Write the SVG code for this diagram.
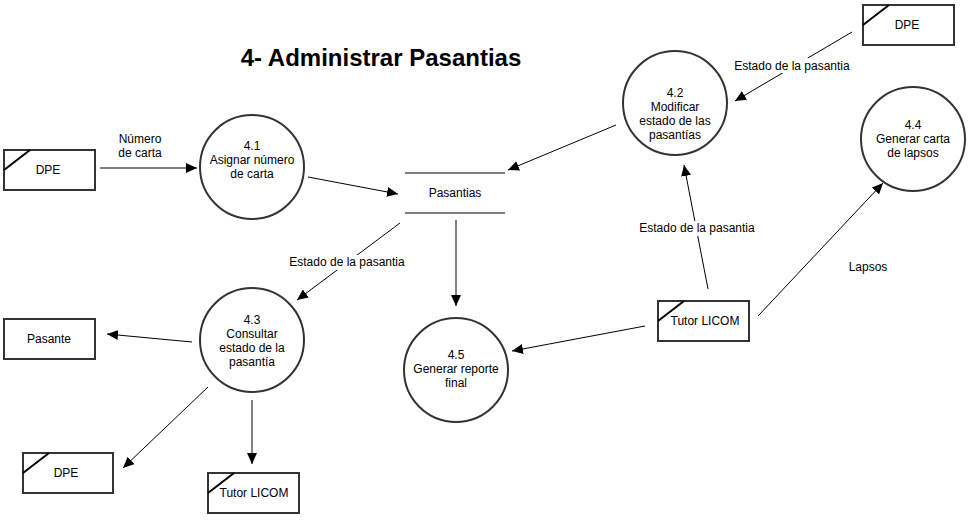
<svg xmlns="http://www.w3.org/2000/svg" width="973" height="523" viewBox="0 0 973 523">
<style>
text{font-family:"Liberation Sans",Arial,sans-serif;font-size:12px;fill:#000;text-anchor:middle}
.title{font-size:24px;font-weight:bold}
.proc{fill:#fff;stroke:#333;stroke-width:2}
.ent{fill:#fff;stroke:#333;stroke-width:2}
.diag{stroke:#000;stroke-width:2}
.thin{stroke:#000;stroke-width:1;fill:none}
.thick{stroke:#808080;stroke-width:2;fill:none}
.store{stroke:#808080;stroke-width:2}
</style>
<defs>
<marker id="ah" markerUnits="userSpaceOnUse" markerWidth="12" markerHeight="10" refX="11" refY="5" orient="auto">
<path d="M0,0 L11,5 L0,10 Z" fill="#000"/>
</marker>
</defs>
<rect width="973" height="523" fill="#fff"/>
<text class="title" x="381" y="66">4- Administrar Pasantias</text>

<g id="connectors">
<line class="thick" x1="100" y1="168" x2="197" y2="168" marker-end="url(#ah)"/>
<text x="140" y="143">Número</text>
<text x="140" y="157">de carta</text>
<line class="thin" x1="308" y1="177" x2="398" y2="194" marker-end="url(#ah)"/>
<line class="thin" x1="616" y1="125" x2="508" y2="170" marker-end="url(#ah)"/>
<line class="thin" x1="852" y1="32" x2="735" y2="101" marker-end="url(#ah)"/>
<rect x="727" y="58" width="130" height="15" fill="#fff"/>
<text x="792" y="70">Estado de la pasantia</text>
<line class="thin" x1="708" y1="289" x2="684" y2="165" marker-end="url(#ah)"/>
<rect x="634" y="221" width="126" height="15" fill="#fff"/>
<text x="697" y="232">Estado de la pasantia</text>
<line class="thin" x1="758" y1="316" x2="883" y2="183" marker-end="url(#ah)"/>
<text x="868" y="271">Lapsos</text>
<line class="thin" x1="645" y1="326" x2="512" y2="351" marker-end="url(#ah)"/>
<line class="thick" x1="456" y1="220" x2="456" y2="306" marker-end="url(#ah)"/>
<line class="thin" x1="400" y1="223" x2="297" y2="300" marker-end="url(#ah)"/>
<rect x="284" y="255" width="126" height="15" fill="#fff"/>
<text x="347" y="266">Estado de la pasantia</text>
<line class="thin" x1="192" y1="342" x2="107" y2="334" marker-end="url(#ah)"/>
<line class="thin" x1="208" y1="387" x2="123" y2="468" marker-end="url(#ah)"/>
<line class="thick" x1="252" y1="400" x2="252" y2="464" marker-end="url(#ah)"/>
</g>

<g id="dpe1">
<rect class="ent" x="4" y="150" width="91" height="40"/>
<line class="diag" x1="4" y1="170" x2="30" y2="150"/>
<text x="48" y="174">DPE</text>
</g>
<g id="p41">
<circle class="proc" cx="252" cy="167" r="52"/>
<text x="252" y="150">4.1</text>
<text x="252" y="164">Asignar número</text>
<text x="252" y="178">de carta</text>
</g>
<g id="pasantias">
<line class="store" x1="405" y1="173" x2="505" y2="173"/>
<line class="store" x1="405" y1="213" x2="505" y2="213"/>
<text x="455" y="197">Pasantias</text>
</g>
<g id="p42">
<circle class="proc" cx="675" cy="103" r="52"/>
<text x="675" y="97">4.2</text>
<text x="675" y="111">Modificar</text>
<text x="675" y="125">estado de las</text>
<text x="675" y="139">pasantías</text>
</g>
<g id="dpe2">
<rect class="ent" x="863" y="5" width="91" height="40"/>
<line class="diag" x1="863" y1="25" x2="889" y2="5"/>
<text x="907" y="29">DPE</text>
</g>
<g id="p44">
<circle class="proc" cx="913" cy="139" r="52"/>
<text x="913" y="129">4.4</text>
<text x="913" y="143">Generar carta</text>
<text x="913" y="157">de lapsos</text>
</g>
<g id="tutor1">
<rect class="ent" x="658" y="301" width="91" height="40"/>
<line class="diag" x1="658" y1="321" x2="684" y2="301"/>
<text x="705" y="325">Tutor LICOM</text>
</g>
<g id="p45">
<circle class="proc" cx="456" cy="370" r="52"/>
<text x="456" y="359">4.5</text>
<text x="456" y="373">Generar reporte</text>
<text x="456" y="387">final</text>
</g>
<g id="p43">
<circle class="proc" cx="252" cy="340" r="52"/>
<text x="252" y="324">4.3</text>
<text x="252" y="338">Consultar</text>
<text x="252" y="352">estado de la</text>
<text x="252" y="366">pasantía</text>
</g>
<g id="pasante">
<rect class="ent" x="4" y="319" width="91" height="40"/>
<text x="49" y="343">Pasante</text>
</g>
<g id="dpe3">
<rect class="ent" x="23" y="453" width="90" height="40"/>
<line class="diag" x1="23" y1="473" x2="49" y2="453"/>
<text x="66" y="477">DPE</text>
</g>
<g id="tutor2">
<rect class="ent" x="208" y="473" width="91" height="40"/>
<line class="diag" x1="208" y1="493" x2="234" y2="473"/>
<text x="254" y="497">Tutor LICOM</text>
</g>
</svg>
